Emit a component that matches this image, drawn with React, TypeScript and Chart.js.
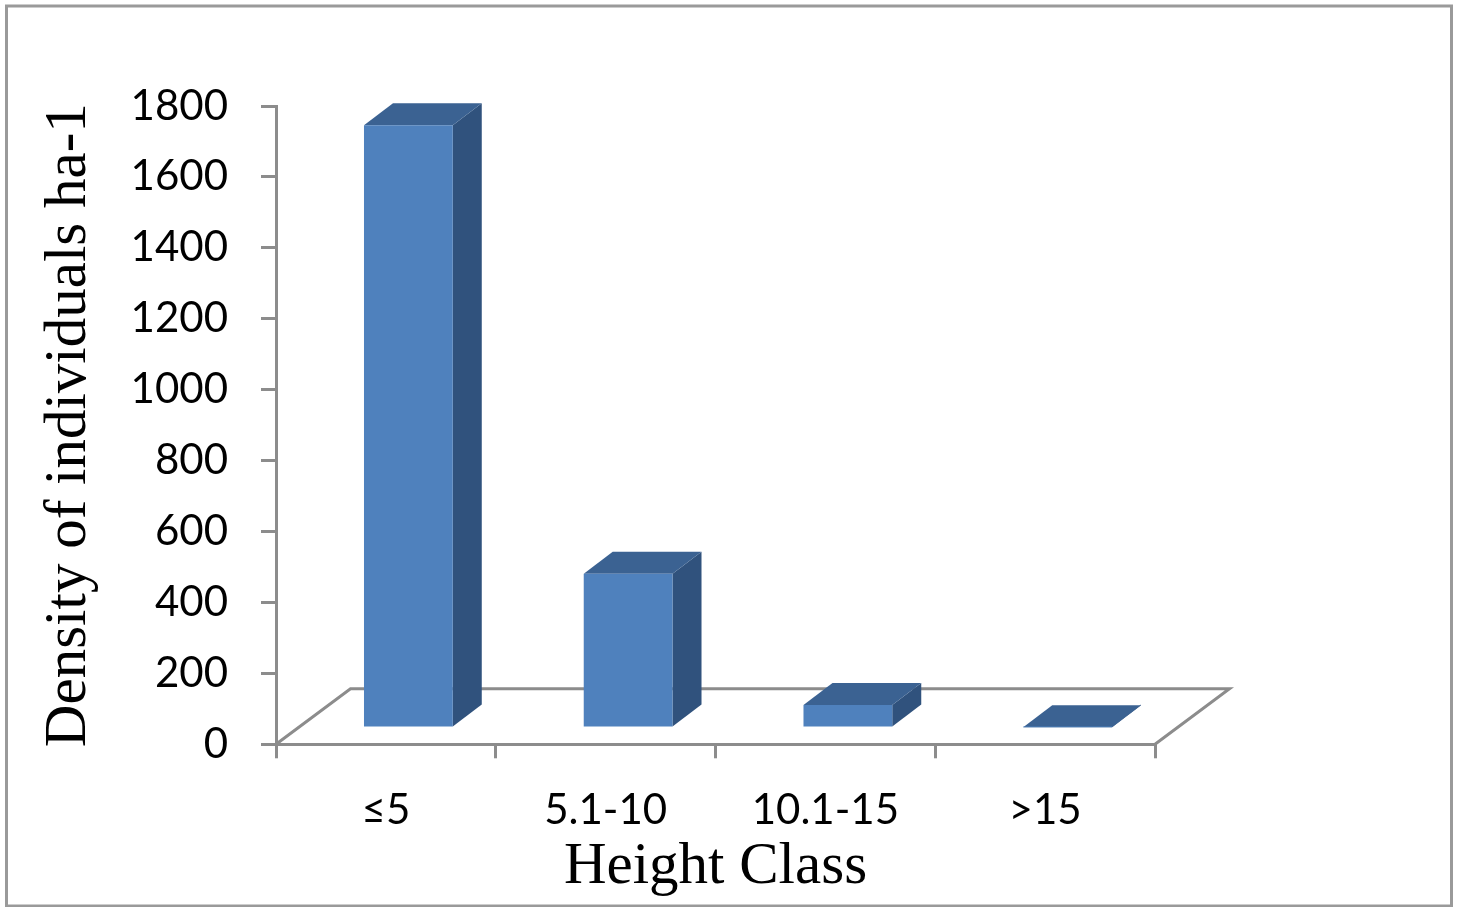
import React, { useEffect, useRef } from 'react';
import { Chart, registerables } from 'chart.js';

Chart.register(...registerables);

// ---- data ----
const categories: string[] = ['≤5', '5.1-10', '10.1-15', '>15'];
const densityValues: number[] = [1700, 435, 65, 2];
const yMin = 0;
const yMax = 1800;
const yStep = 200;
const xTitle = 'Height Class';
const yTitle = 'Density of individuals ha-1';

// ---- style ----
const FRONT = '#4F81BD';
const TOP = '#3B6292';
const SIDE = '#30527D';
const AXIS = '#8C8C8C';
const FRAME = '#9A9A9A';
const FLOOR_DX = 74.5;
const FLOOR_DY = -55.5;
const BAR_FX = 22.5;
const BAR_FY = -16.3;
const BAR_DX = 29;
const BAR_DY = -22;
const W = 1458;
const H = 907;

function poly(ctx: CanvasRenderingContext2D, pts: number[][], color: string) {
  ctx.fillStyle = color;
  ctx.beginPath();
  ctx.moveTo(pts[0][0], pts[0][1]);
  for (let i = 1; i < pts.length; i++) ctx.lineTo(pts[i][0], pts[i][1]);
  ctx.closePath();
  ctx.fill();
}

const threeD = {
  id: 'threeD',
  beforeDatasetsDraw(chart: any) {
    const { ctx, chartArea } = chart;
    const y0 = chart.scales.y.getPixelForValue(0);
    const l = chartArea.left;
    const r = chartArea.right;
    ctx.save();
    ctx.strokeStyle = AXIS;
    ctx.lineWidth = 3;
    ctx.lineJoin = 'miter';
    ctx.beginPath();
    ctx.moveTo(l, y0);
    ctx.lineTo(l + FLOOR_DX, y0 + FLOOR_DY);
    ctx.lineTo(r + FLOOR_DX, y0 + FLOOR_DY);
    ctx.lineTo(r, y0);
    ctx.stroke();
    const meta = chart.getDatasetMeta(0);
    meta.data.forEach((el: any) => {
      const x = el.x, y = el.y, base = el.base, width = el.width;
      const xl = x - width / 2 + BAR_FX;
      const xr = x + width / 2 + BAR_FX;
      const yt = y + BAR_FY;
      const yb = base + BAR_FY;
      poly(ctx, [[xr, yt], [xr + BAR_DX, yt + BAR_DY], [xr + BAR_DX, yb + BAR_DY], [xr, yb]], SIDE);
      poly(ctx, [[xl, yt], [xr, yt], [xr + BAR_DX, yt + BAR_DY], [xl + BAR_DX, yt + BAR_DY]], TOP);
    });
    ctx.restore();
    ctx.save();
    ctx.translate(BAR_FX, BAR_FY);
  },
  afterDatasetsDraw(chart: any) {
    chart.ctx.restore();
  },
  afterDraw(chart: any) {
    const ctx = chart.ctx;
    ctx.save();
    ctx.strokeStyle = FRAME;
    ctx.lineWidth = 3;
    ctx.strokeRect(6.5, 6, W - 13, H - 7);
    ctx.restore();
  },
};

export default function App() {
  const ref = useRef<HTMLCanvasElement>(null);
  useEffect(() => {
    document.body.style.margin = '0';
    const chart = new Chart(ref.current as HTMLCanvasElement, {
      type: 'bar',
      data: {
        labels: categories,
        datasets: [
          {
            data: densityValues,
            backgroundColor: FRONT,
            borderWidth: 0,
            barPercentage: 0.404,
            categoryPercentage: 1,
            clip: false as any,
          },
        ],
      },
      options: {
        animation: false,
        responsive: false,
        maintainAspectRatio: false,
        events: [],
        layout: { padding: { top: 106, right: 303, left: 0, bottom: 0 } },
        plugins: { legend: { display: false }, tooltip: { enabled: false } },
        scales: {
          x: {
            type: 'category',
            offset: true,
            ticks: {
              font: { family: 'Lato', size: 42 },
              color: '#000',
              padding: 27,
              maxRotation: 0,
              autoSkip: false,
            },
            grid: { offset: true, drawOnChartArea: false, drawTicks: true, tickLength: 14, color: AXIS, lineWidth: 3 },
            border: { display: true, color: AXIS, width: 3 },
            title: {
              display: true,
              text: xTitle,
              font: { family: 'Liberation Serif', size: 59 },
              color: '#000',
              padding: { top: 0, bottom: 4 },
            },
            afterFit: (s: any) => {
              s.height = H - 744.3;
            },
          },
          y: {
            min: yMin,
            max: yMax,
            ticks: {
              stepSize: yStep,
              font: { family: 'Lato', size: 42 },
              color: '#000',
              padding: 33,
              callback: (v: any) => String(v),
            },
            grid: { drawOnChartArea: false, drawTicks: true, tickLength: 15, color: AXIS, lineWidth: 3 },
            border: { display: true, color: AXIS, width: 3 },
            title: {
              display: true,
              text: yTitle,
              font: { family: 'Liberation Serif', size: 59 },
              color: '#000',
              padding: { top: 34, bottom: 0 },
            },
            afterFit: (s: any) => {
              s.width = 276;
            },
          },
        },
      },
      plugins: [threeD],
    } as any);
    return () => chart.destroy();
  }, []);
  return (
    <div style={{ position: 'fixed', left: 0, top: 0, width: W, height: H, background: '#fff' }}>
      <canvas ref={ref} width={W} height={H} style={{ display: 'block', width: W, height: H }} />
    </div>
  );
}
